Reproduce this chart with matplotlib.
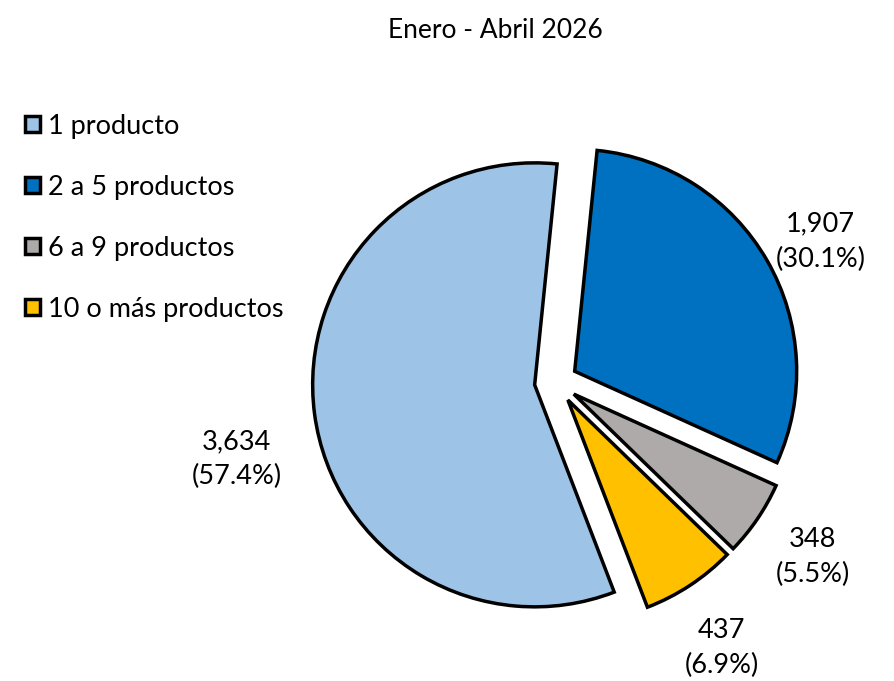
import numpy as np
import matplotlib
matplotlib.use("Agg")
import matplotlib.pyplot as plt
from matplotlib.patches import Patch

plt.rcParams['font.family'] = ['Lato', 'DejaVu Sans']

categories = ['1 producto', '2 a 5 productos', '6 a 9 productos', '10 o más productos']
values = [3634, 1907, 348, 437]
colors = ['#9DC3E6', '#0070C0', '#AEAAAA', '#FFC000']
# label distance (in radii) and angle tweak (degrees) per slice
label_dist = [1.48, 1.35, 1.40, 1.41]
label_shift = [6, -2, 0, -1.5]

fig = plt.figure(figsize=(8.95, 6.81), dpi=100)
ax = fig.add_axes([0, 0, 1, 1])

wedges, _ = ax.pie(values, colors=colors, startangle=-69, counterclock=False,
                   explode=[0.097] * 4, radius=1.0,
                   wedgeprops=dict(edgecolor='black', linewidth=2.5))

total = sum(values)
for w, v, d, s in zip(wedges, values, label_dist, label_shift):
    mid = np.deg2rad((w.theta1 + w.theta2) / 2 + s)
    ax.text(d * np.cos(mid), d * np.sin(mid), f"{v:,}\n({v / total * 100:.1f}%)",
            ha='center', va='center', fontsize=19.5, linespacing=1.5)

ax.set_xlim(-556 / 222, (895 - 556) / 222)
ax.set_ylim(-299 / 222, 382 / 222)
ax.set_aspect('auto')
ax.axis('off')

fig.text(0.553, 0.955, 'Enero - Abril 2026', ha='center', va='center', fontsize=19)

handles = [Patch(facecolor=c, edgecolor='black', linewidth=2.5) for c in colors]
fig.legend(handles, categories, loc='upper left', bbox_to_anchor=(0.028, 0.833),
           frameon=False, fontsize=19.5, handlelength=0.55, handleheight=0.55,
           handletextpad=0.3, labelspacing=1.33, borderaxespad=0, borderpad=0)

fig.savefig('out.png', dpi=100)
